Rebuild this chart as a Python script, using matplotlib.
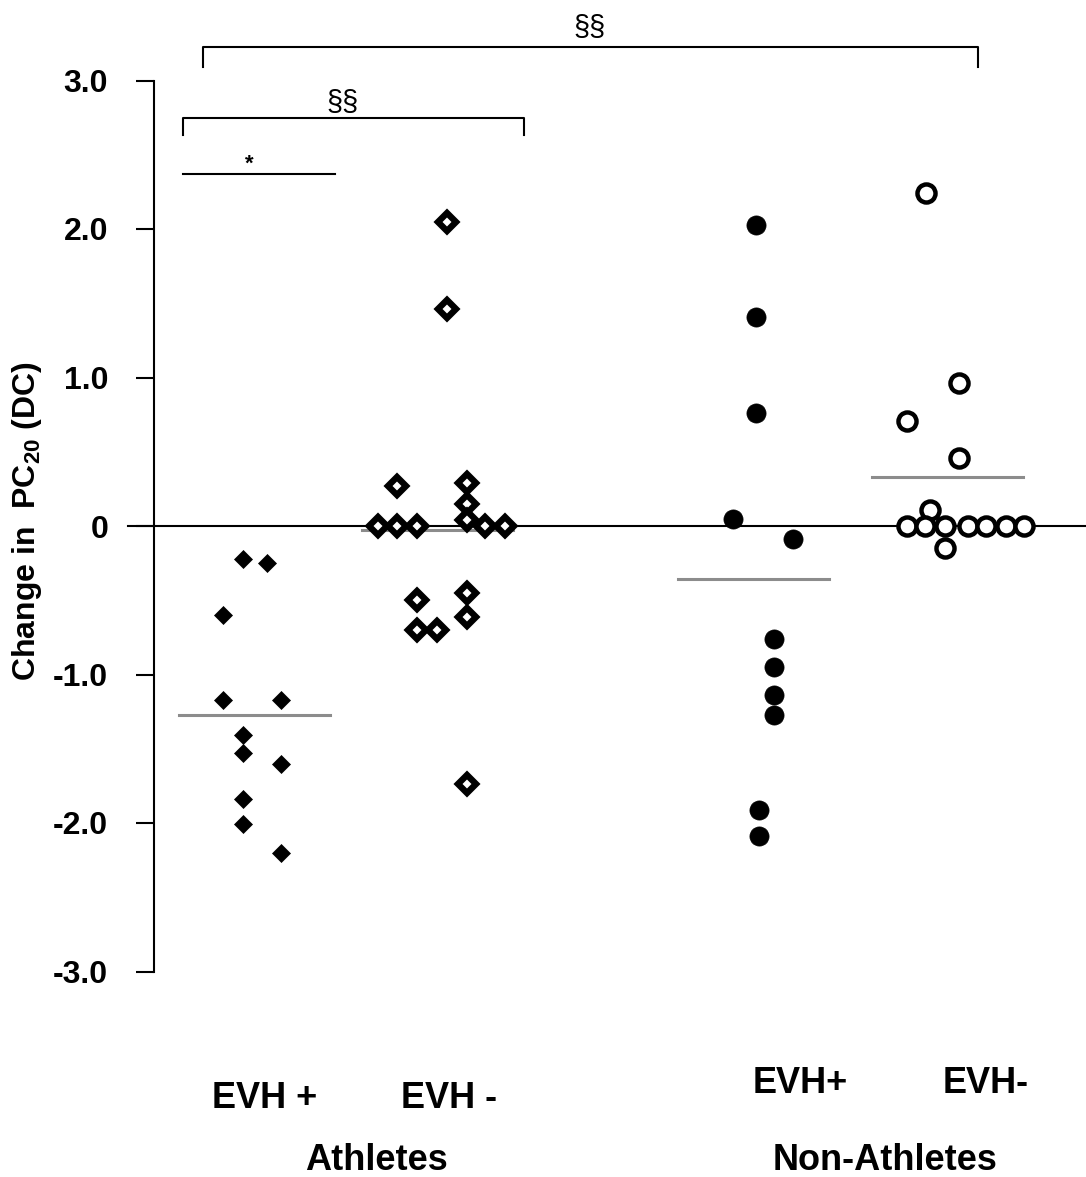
import matplotlib
matplotlib.use("Agg")
import matplotlib.pyplot as plt
import numpy as np

plt.rcParams['font.family'] = ['Liberation Sans', 'DejaVu Sans']
plt.rcParams['mathtext.fontset'] = 'custom'
plt.rcParams['mathtext.rm'] = 'Liberation Sans:bold'
plt.rcParams['mathtext.bf'] = 'Liberation Sans:bold'

# change in PC20 (doubling concentrations)
ath_evh_pos = [-0.22, -0.25, -0.60, -1.17, -1.17, -1.41, -1.53, -1.60, -1.84, -2.01, -2.20]
ath_evh_neg = [2.05, 1.46, 0.27, 0.29, 0.15, 0.04, 0, 0, 0, 0, 0,
               -0.45, -0.50, -0.61, -0.70, -0.70, -1.74]
non_evh_pos = [2.03, 1.41, 0.76, 0.05, -0.09, -0.76, -0.95, -1.14, -1.27, -1.91, -2.09]
non_evh_neg = [2.24, 0.965, 0.71, 0.456, 0.11, 0, 0, 0, 0, 0, 0, 0, -0.15]

# horizontal spread of the dots around each group centre (x axis units)
jit_ath_pos = [-12, 12, -32, -32, 26.5, -12, -12, 26.5, -12, -12, 26.5]
jit_ath_neg = [10, 10, -40, 30, 30, 30, -59, -40, -20, 48, 68, 30, -20, 30, -20, 0, 30]
jit_non_pos = [3, 3, 3, -20, 40, 21, 21, 21, 21, 6, 6]
jit_non_neg = [-21, 12, -40, 12, -17, -40, -22, -2, 21, 39, 59, 77, -2]

group_labels = ["EVH +", "EVH -", "EVH+", "EVH-"]
group_names = ["Athletes", "Non-Athletes"]
yticks = [-3, -2, -1, 0, 1, 2, 3]
ytick_labels = ["-3.0", "-2.0", "-1.0", "0", "1.0", "2.0", "3.0"]

centres = [254.5, 437, 753, 947]
half_w = 75.5

W, H = 1086, 1177
fig = plt.figure(figsize=(W / 100, H / 100), dpi=100)
ax = fig.add_axes([154 / W, 1 - 971.5 / H, 932 / W, 891 / H])
ax.set_xlim(154, 1086)
ax.set_ylim(-3, 3)

# zero line, runs past the axis on the left
ax.plot([128, 1086], [0, 0], color='black', lw=1.5, clip_on=False, zorder=1)

groups = [
    (ath_evh_pos, jit_ath_pos, dict(marker='D', ms=9.4, mfc='black', mec='black', mew=0.5)),
    (ath_evh_neg, jit_ath_neg, dict(marker='D', ms=9.2, mfc='white', mec='black', mew=4.6)),
    (non_evh_pos, jit_non_pos, dict(marker='o', ms=13.8, mfc='black', mec='black', mew=0.5)),
    (non_evh_neg, jit_non_neg, dict(marker='o', ms=13.0, mfc='white', mec='black', mew=3.2)),
]

for c, (vals, jit, style) in zip(centres, groups):
    vals = np.array(vals)
    xs = c + np.array(jit)
    m = vals.mean()
    ax.plot([c - half_w, c + half_w], [m, m], color='#8c8c8c', lw=2.2, zorder=2)
    ax.plot(xs, vals, ls='none', zorder=3, clip_on=False, **style)

# significance brackets
kw = dict(color='black', lw=1.5, clip_on=False)
ax.plot([203, 203, 978, 978], [3.093, 3.228, 3.228, 3.093], **kw)
ax.plot([183, 183, 524, 524], [2.633, 2.745, 2.745, 2.633], **kw)
ax.plot([183, 335], [2.37, 2.37], **kw)
ax.text(590, 3.30, "§§", ha='center', va='baseline', fontsize=21)
ax.text(343, 2.795, "§§", ha='center', va='baseline', fontsize=21)
ax.text(249, 2.40, "*", ha='center', va='baseline', fontsize=16, fontweight='bold')

# axis styling
for s in ['top', 'right', 'bottom']:
    ax.spines[s].set_visible(False)
ax.spines['left'].set_bounds(-3, 3)
ax.spines['left'].set_linewidth(1.5)
ax.set_xticks([])
ax.set_yticks(yticks)
ax.set_yticklabels(ytick_labels, fontweight='bold')
ax.tick_params(axis='y', direction='out', length=13, width=1.5, pad=20, labelsize=23)

# group labels under the axis
lab_y = [-3.92, -3.92, -3.82, -3.82]
lab_x = [265, 449, 800, 986]
for x, y, t in zip(lab_x, lab_y, group_labels):
    ax.text(x, y, t, ha='center', va='baseline', fontsize=26, fontweight='bold', clip_on=False)
ax.text(376, -4.34, group_names[0], ha='center', va='baseline', fontsize=26, fontweight='bold')
ax.text(885, -4.34, group_names[1], ha='center', va='baseline', fontsize=26, fontweight='bold')

fig.text(27 / W, 1 - 521 / H, r"Change in  PC$_{\mathbf{20}}$ (DC)", rotation=90,
         ha='center', va='center', fontsize=23, fontweight='bold')

fig.savefig("out.png", dpi=100)
